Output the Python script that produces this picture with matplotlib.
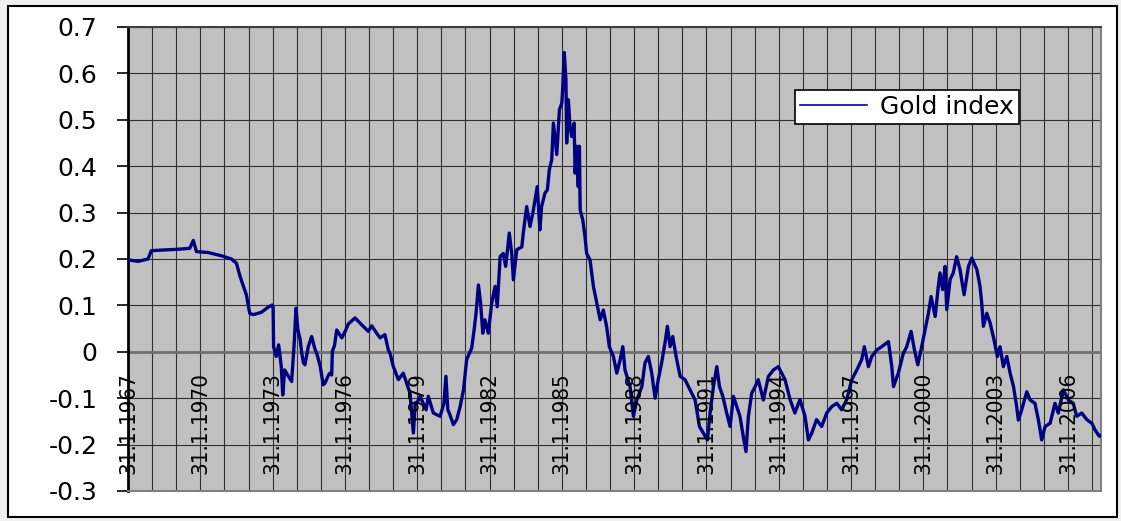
import numpy as np
import matplotlib
matplotlib.use("Agg")
import matplotlib.pyplot as plt
import matplotlib.transforms as mtransforms
from matplotlib.patches import Rectangle

# gold index, sampled by hand (decimal year, value)
years = [
    1967.08, 1967.50, 1967.91, 1968.05, 1969.15, 1969.64, 1969.79, 1969.92,
    1970.40, 1970.95, 1971.37, 1971.58, 1971.71, 1971.85, 1971.99, 1972.13,
    1972.27, 1972.61, 1972.89, 1973.06, 1973.10, 1973.12, 1973.23, 1973.33,
    1973.44, 1973.50, 1973.58, 1973.70, 1973.87, 1973.98, 1974.05, 1974.13,
    1974.22, 1974.29, 1974.36, 1974.42, 1974.56, 1974.70, 1974.84, 1974.91,
    1975.05, 1975.18, 1975.25, 1975.40, 1975.46, 1975.53, 1975.56, 1975.65,
    1975.74, 1975.95, 1976.10, 1976.22, 1976.50, 1976.78, 1977.05, 1977.19,
    1977.40, 1977.54, 1977.74, 1977.88, 1977.95, 1978.09, 1978.30, 1978.50,
    1978.78, 1978.92, 1979.00, 1979.06, 1979.20, 1979.45, 1979.54, 1979.75,
    1980.03, 1980.19, 1980.27, 1980.35, 1980.41, 1980.58, 1980.72, 1980.86,
    1981.00, 1981.13, 1981.34, 1981.44, 1981.52, 1981.62, 1981.71, 1981.80,
    1981.89, 1982.03, 1982.17, 1982.31, 1982.40, 1982.52, 1982.65, 1982.75,
    1982.90, 1983.00, 1983.07, 1983.21, 1983.42, 1983.48, 1983.62, 1983.76,
    1983.90, 1984.06, 1984.17, 1984.24, 1984.38, 1984.48, 1984.56, 1984.66,
    1984.73, 1984.87, 1984.98, 1985.08, 1985.12, 1985.18, 1985.25, 1985.28,
    1985.35, 1985.42, 1985.49, 1985.59, 1985.63, 1985.70, 1985.76, 1985.81,
    1985.84, 1985.95, 1986.04, 1986.11, 1986.25, 1986.39, 1986.53, 1986.67,
    1986.80, 1986.94, 1987.05, 1987.22, 1987.36, 1987.50, 1987.61, 1987.70,
    1987.91, 1988.05, 1988.19, 1988.40, 1988.53, 1988.67, 1988.81, 1988.95,
    1989.08, 1989.22, 1989.36, 1989.46, 1989.57, 1989.68, 1989.82, 1989.99,
    1990.19, 1990.40, 1990.61, 1990.79, 1990.95, 1991.12, 1991.23, 1991.37,
    1991.51, 1991.62, 1991.76, 1991.92, 1992.06, 1992.20, 1992.34, 1992.47,
    1992.61, 1992.72, 1992.82, 1992.96, 1993.10, 1993.23, 1993.44, 1993.65,
    1993.86, 1994.06, 1994.34, 1994.55, 1994.75, 1994.96, 1995.17, 1995.31,
    1995.45, 1995.65, 1995.86, 1996.07, 1996.28, 1996.49, 1996.69, 1996.90,
    1997.11, 1997.32, 1997.52, 1997.63, 1997.80, 1997.94, 1998.15, 1998.35,
    1998.63, 1998.77, 1998.84, 1999.04, 1999.25, 1999.39, 1999.57, 1999.71,
    1999.85, 2000.01, 2000.15, 2000.29, 2000.40, 2000.57, 2000.70, 2000.77,
    2000.88, 2000.98, 2001.05, 2001.19, 2001.32, 2001.46, 2001.60, 2001.77,
    2001.95, 2002.09, 2002.30, 2002.43, 2002.50, 2002.57, 2002.71, 2002.85,
    2003.01, 2003.15, 2003.26, 2003.40, 2003.54, 2003.68, 2003.82, 2003.95,
    2004.02, 2004.16, 2004.37, 2004.51, 2004.71, 2004.85, 2004.99, 2005.13,
    2005.34, 2005.54, 2005.68, 2005.89, 2006.10, 2006.30, 2006.44, 2006.65,
    2006.86, 2007.07, 2007.20, 2007.38, 2007.45,
]
gold = [
    0.198, 0.195, 0.200, 0.218, 0.221, 0.223, 0.240, 0.216,
    0.214, 0.207, 0.200, 0.191, 0.166, 0.144, 0.123, 0.083,
    0.080, 0.085, 0.096, 0.101, 0.098, 0.011, -0.010, 0.015,
    -0.032, -0.093, -0.039, -0.050, -0.064, 0.022, 0.094, 0.047,
    0.027, -0.003, -0.024, -0.028, 0.011, 0.033, 0.005, -0.003,
    -0.030, -0.071, -0.068, -0.050, -0.046, -0.050, 0.001, 0.014,
    0.047, 0.030, 0.045, 0.060, 0.073, 0.058, 0.044, 0.056,
    0.040, 0.030, 0.037, 0.004, -0.003, -0.032, -0.060, -0.046,
    -0.089, -0.175, -0.110, -0.111, -0.096, -0.125, -0.096, -0.132,
    -0.139, -0.111, -0.053, -0.125, -0.132, -0.157, -0.146, -0.118,
    -0.082, -0.017, 0.008, 0.047, 0.083, 0.144, 0.105, 0.040,
    0.069, 0.040, 0.105, 0.141, 0.097, 0.205, 0.212, 0.184,
    0.256, 0.212, 0.155, 0.220, 0.226, 0.256, 0.313, 0.270,
    0.306, 0.356, 0.263, 0.313, 0.342, 0.349, 0.392, 0.414,
    0.493, 0.425, 0.522, 0.536, 0.572, 0.645, 0.586, 0.450,
    0.543, 0.485, 0.464, 0.493, 0.385, 0.443, 0.356, 0.443,
    0.306, 0.284, 0.248, 0.212, 0.198, 0.141, 0.105, 0.069,
    0.090, 0.054, 0.011, -0.010, -0.046, -0.017, 0.011, -0.039,
    -0.075, -0.139, -0.104, -0.075, -0.024, -0.010, -0.046, -0.100,
    -0.060, -0.024, 0.019, 0.055, 0.011, 0.033, -0.010, -0.053,
    -0.060, -0.082, -0.104, -0.161, -0.175, -0.190, -0.132, -0.075,
    -0.032, -0.075, -0.096, -0.132, -0.161, -0.096, -0.118, -0.139,
    -0.183, -0.215, -0.139, -0.089, -0.075, -0.060, -0.104, -0.053,
    -0.039, -0.032, -0.060, -0.103, -0.132, -0.103, -0.139, -0.190,
    -0.175, -0.146, -0.161, -0.132, -0.118, -0.111, -0.125, -0.103,
    -0.060, -0.039, -0.017, 0.011, -0.032, -0.010, 0.004, 0.011,
    0.022, -0.032, -0.075, -0.046, -0.003, 0.011, 0.044, 0.004,
    -0.028, 0.011, 0.047, 0.083, 0.119, 0.076, 0.141, 0.170,
    0.134, 0.184, 0.091, 0.156, 0.170, 0.205, 0.177, 0.123,
    0.184, 0.202, 0.177, 0.141, 0.105, 0.055, 0.083, 0.062,
    0.026, -0.010, 0.011, -0.032, -0.010, -0.046, -0.075, -0.118,
    -0.147, -0.125, -0.086, -0.104, -0.111, -0.146, -0.190, -0.161,
    -0.154, -0.111, -0.132, -0.082, -0.104, -0.111, -0.139, -0.132,
    -0.146, -0.154, -0.168, -0.182, -0.180,
]

grid_years = [1967.08 + k for k in range(41)]
label_years = [1967.08 + 3 * k for k in range(14)]
label_texts = ["31.1.%d" % (1967 + 3 * k) for k in range(14)]
y_ticks = [-0.3, -0.2, -0.1, 0.0, 0.1, 0.2, 0.3, 0.4, 0.5, 0.6, 0.7]
y_labels = ["-0.3", "-0.2", "-0.1", "0", "0.1", "0.2", "0.3", "0.4", "0.5", "0.6", "0.7"]

W, H = 1121, 521
fig = plt.figure(figsize=(W / 100, H / 100), dpi=100, facecolor="#f0f0f0")
# white chart frame behind the axes
fig.patches.append(Rectangle((8 / W, 1 - 517 / H), 1109 / W, 511 / H,
                             transform=fig.transFigure, facecolor="white",
                             edgecolor="black", lw=1.5, zorder=-5))

ax = fig.add_axes([128 / W, 1 - 491 / H, 973 / W, 464 / H], zorder=2)
ax.set_facecolor("#c0c0c0")

ax.plot(years, gold, color="#000080", lw=2.4, label="Gold index", zorder=3)
ax.axhline(0, color="#707070", lw=2, zorder=2)

ax.set_xlim(1967.08, 2007.45)
ax.set_ylim(-0.3, 0.7)
ax.set_xticks(grid_years)
ax.tick_params(axis="x", length=0, labelbottom=False)
ax.set_yticks(y_ticks)
ax.set_yticklabels(y_labels, fontsize=18, family="DejaVu Sans")
ax.tick_params(axis="y", direction="out", length=8, width=1.2, pad=14)
ax.grid(True, color="#303030", lw=0.8, zorder=1)
ax.set_axisbelow(True)

for side in ["top", "right", "bottom"]:
    ax.spines[side].set_color("#808080")
    ax.spines[side].set_linewidth(1.5)
ax.spines["top"].set_color("#404040")
ax.spines["left"].set_color("black")
ax.spines["left"].set_linewidth(2)

# date labels stand up inside the plot area
trans = mtransforms.blended_transform_factory(ax.transData, ax.transAxes)
for yr, lab in zip(label_years, label_texts):
    ax.text(yr, 0.037, lab, transform=trans, rotation=90, ha="center",
            va="bottom", fontsize=16, family="DejaVu Sans", stretch="condensed",
            zorder=4)

leg = ax.legend(loc="upper left", bbox_to_anchor=(0.6855, 0.864), borderaxespad=0,
                fontsize=18, frameon=True, fancybox=False, framealpha=1,
                edgecolor="black", handlelength=2.7, handletextpad=0.5,
                borderpad=0.2)
leg.get_frame().set_linewidth(1.2)
for h in leg.legend_handles:
    h.set_linewidth(1.2)
    h.set_color("#0000c0")

fig.savefig("out.png", dpi=100, facecolor=fig.get_facecolor())
